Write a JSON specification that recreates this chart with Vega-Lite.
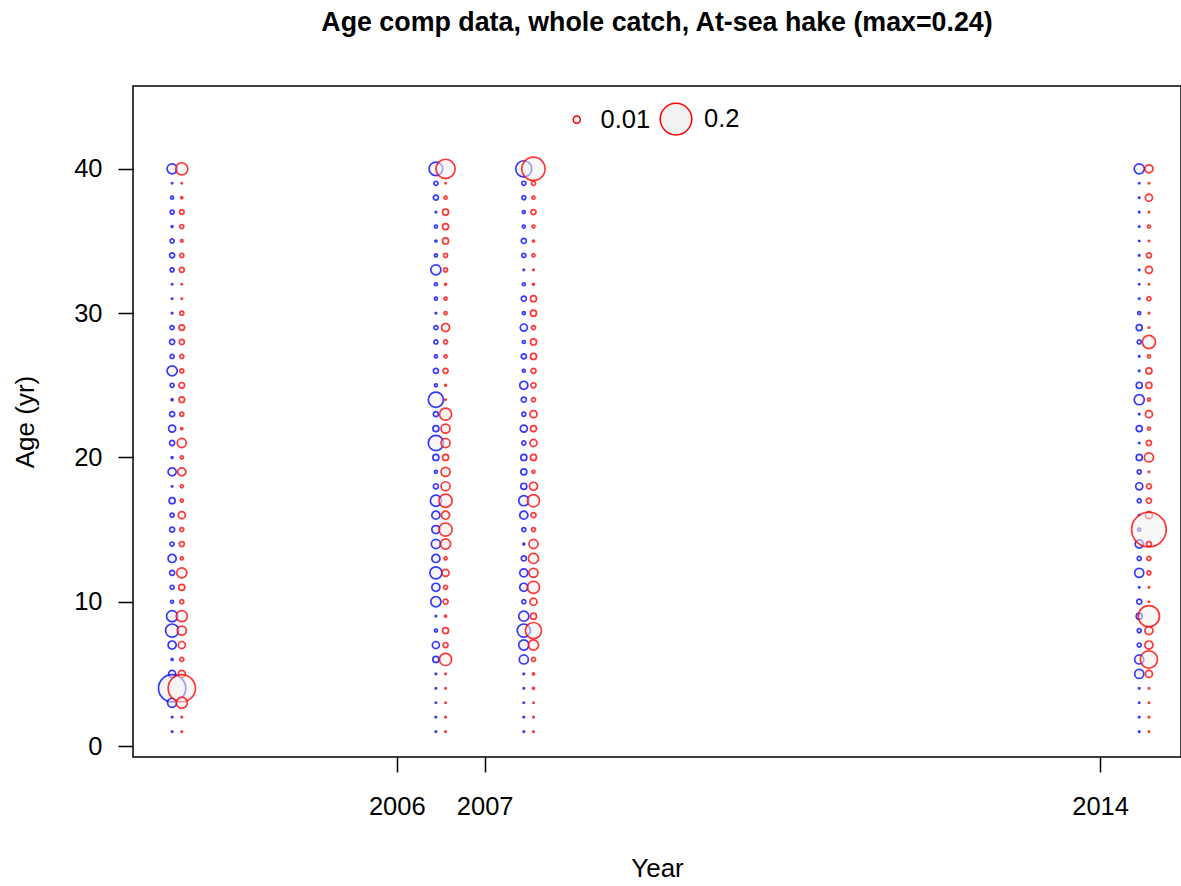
{
"$schema": "https://vega.github.io/schema/vega-lite/v6.json",
"width": 1048, "height": 671,
"autosize": {"type": "none"},
"padding": {"left": 133, "top": 86, "right": 0, "bottom": 129},
"background": "white",
"title": {"text": "Age comp data, whole catch, At-sea hake (max=0.24)", "anchor": "middle", "font": "Liberation Sans", "fontSize": 26.8, "fontWeight": "bold", "color": "black", "baseline": "alphabetic", "offset": 28},
"config": {
  "view": {"stroke": "black", "strokeWidth": 1.5},
  "axis": {"domain": false, "grid": false, "ticks": true, "tickColor": "black", "tickWidth": 1.5, "tickSize": 15,
           "labelFont": "Liberation Sans", "labelFontSize": 25.5, "labelColor": "black",
           "titleFont": "Liberation Sans", "titleFontSize": 26, "titleFontWeight": "normal", "titleColor": "black"}
},
"data": {"values": [
{"yr":2003.5,"sex":"M","age":40,"prop":0.0204},{"yr":2003.5,"sex":"M","age":39,"prop":0.0004},{"yr":2003.5,"sex":"M","age":38,"prop":0.0018},{"yr":2003.5,"sex":"M","age":37,"prop":0.0033},{"yr":2003.5,"sex":"M","age":36,"prop":0.0006},{"yr":2003.5,"sex":"M","age":35,"prop":0.0033},{"yr":2003.5,"sex":"M","age":34,"prop":0.0051},{"yr":2003.5,"sex":"M","age":33,"prop":0.0033},{"yr":2003.5,"sex":"M","age":32,"prop":0.0004},{"yr":2003.5,"sex":"M","age":31,"prop":0.0004},
{"yr":2003.5,"sex":"M","age":30,"prop":0.0004},{"yr":2003.5,"sex":"M","age":29,"prop":0.0033},{"yr":2003.5,"sex":"M","age":28,"prop":0.0051},{"yr":2003.5,"sex":"M","age":27,"prop":0.0033},{"yr":2003.5,"sex":"M","age":26,"prop":0.0204},{"yr":2003.5,"sex":"M","age":25,"prop":0.0033},{"yr":2003.5,"sex":"M","age":24,"prop":0.0008},{"yr":2003.5,"sex":"M","age":23,"prop":0.0051},{"yr":2003.5,"sex":"M","age":22,"prop":0.0100},{"yr":2003.5,"sex":"M","age":21,"prop":0.0051},
{"yr":2003.5,"sex":"M","age":20,"prop":0.0006},{"yr":2003.5,"sex":"M","age":19,"prop":0.0131},{"yr":2003.5,"sex":"M","age":18,"prop":0.0004},{"yr":2003.5,"sex":"M","age":17,"prop":0.0073},{"yr":2003.5,"sex":"M","age":16,"prop":0.0033},{"yr":2003.5,"sex":"M","age":15,"prop":0.0051},{"yr":2003.5,"sex":"M","age":14,"prop":0.0033},{"yr":2003.5,"sex":"M","age":13,"prop":0.0131},{"yr":2003.5,"sex":"M","age":12,"prop":0.0051},{"yr":2003.5,"sex":"M","age":11,"prop":0.0033},
{"yr":2003.5,"sex":"M","age":10,"prop":0.0018},{"yr":2003.5,"sex":"M","age":9,"prop":0.0247},{"yr":2003.5,"sex":"M","age":8,"prop":0.0345},{"yr":2003.5,"sex":"M","age":7,"prop":0.0131},{"yr":2003.5,"sex":"M","age":6,"prop":0.0008},{"yr":2003.5,"sex":"M","age":5,"prop":0.0100},{"yr":2003.5,"sex":"M","age":4,"prop":0.1488},{"yr":2003.5,"sex":"M","age":3,"prop":0.0165},{"yr":2003.5,"sex":"M","age":2,"prop":0.0004},{"yr":2003.5,"sex":"M","age":1,"prop":0.0004},
{"yr":2006.5,"sex":"M","age":40,"prop":0.0370},{"yr":2006.5,"sex":"M","age":39,"prop":0.0033},{"yr":2006.5,"sex":"M","age":38,"prop":0.0051},{"yr":2006.5,"sex":"M","age":37,"prop":0.0004},{"yr":2006.5,"sex":"M","age":36,"prop":0.0018},{"yr":2006.5,"sex":"M","age":35,"prop":0.0008},{"yr":2006.5,"sex":"M","age":34,"prop":0.0018},{"yr":2006.5,"sex":"M","age":33,"prop":0.0204},{"yr":2006.5,"sex":"M","age":32,"prop":0.0018},{"yr":2006.5,"sex":"M","age":31,"prop":0.0018},
{"yr":2006.5,"sex":"M","age":30,"prop":0.0004},{"yr":2006.5,"sex":"M","age":29,"prop":0.0033},{"yr":2006.5,"sex":"M","age":28,"prop":0.0033},{"yr":2006.5,"sex":"M","age":27,"prop":0.0018},{"yr":2006.5,"sex":"M","age":26,"prop":0.0051},{"yr":2006.5,"sex":"M","age":25,"prop":0.0018},{"yr":2006.5,"sex":"M","age":24,"prop":0.0459},{"yr":2006.5,"sex":"M","age":23,"prop":0.0051},{"yr":2006.5,"sex":"M","age":22,"prop":0.0073},{"yr":2006.5,"sex":"M","age":21,"prop":0.0459},
{"yr":2006.5,"sex":"M","age":20,"prop":0.0073},{"yr":2006.5,"sex":"M","age":19,"prop":0.0018},{"yr":2006.5,"sex":"M","age":18,"prop":0.0051},{"yr":2006.5,"sex":"M","age":17,"prop":0.0247},{"yr":2006.5,"sex":"M","age":16,"prop":0.0131},{"yr":2006.5,"sex":"M","age":15,"prop":0.0131},{"yr":2006.5,"sex":"M","age":14,"prop":0.0165},{"yr":2006.5,"sex":"M","age":13,"prop":0.0131},{"yr":2006.5,"sex":"M","age":12,"prop":0.0294},{"yr":2006.5,"sex":"M","age":11,"prop":0.0131},
{"yr":2006.5,"sex":"M","age":10,"prop":0.0204},{"yr":2006.5,"sex":"M","age":9,"prop":0.0004},{"yr":2006.5,"sex":"M","age":8,"prop":0.0018},{"yr":2006.5,"sex":"M","age":7,"prop":0.0100},{"yr":2006.5,"sex":"M","age":6,"prop":0.0073},{"yr":2006.5,"sex":"M","age":5,"prop":0.0004},{"yr":2006.5,"sex":"M","age":4,"prop":0.0004},{"yr":2006.5,"sex":"M","age":3,"prop":0.0004},{"yr":2006.5,"sex":"M","age":2,"prop":0.0004},{"yr":2006.5,"sex":"M","age":1,"prop":0.0004},
{"yr":2007.5,"sex":"M","age":40,"prop":0.0522},{"yr":2007.5,"sex":"M","age":39,"prop":0.0033},{"yr":2007.5,"sex":"M","age":38,"prop":0.0033},{"yr":2007.5,"sex":"M","age":37,"prop":0.0018},{"yr":2007.5,"sex":"M","age":36,"prop":0.0018},{"yr":2007.5,"sex":"M","age":35,"prop":0.0051},{"yr":2007.5,"sex":"M","age":34,"prop":0.0033},{"yr":2007.5,"sex":"M","age":33,"prop":0.0004},{"yr":2007.5,"sex":"M","age":32,"prop":0.0018},{"yr":2007.5,"sex":"M","age":31,"prop":0.0051},
{"yr":2007.5,"sex":"M","age":30,"prop":0.0018},{"yr":2007.5,"sex":"M","age":29,"prop":0.0100},{"yr":2007.5,"sex":"M","age":28,"prop":0.0018},{"yr":2007.5,"sex":"M","age":27,"prop":0.0051},{"yr":2007.5,"sex":"M","age":26,"prop":0.0018},{"yr":2007.5,"sex":"M","age":25,"prop":0.0131},{"yr":2007.5,"sex":"M","age":24,"prop":0.0051},{"yr":2007.5,"sex":"M","age":23,"prop":0.0033},{"yr":2007.5,"sex":"M","age":22,"prop":0.0100},{"yr":2007.5,"sex":"M","age":21,"prop":0.0033},
{"yr":2007.5,"sex":"M","age":20,"prop":0.0073},{"yr":2007.5,"sex":"M","age":19,"prop":0.0073},{"yr":2007.5,"sex":"M","age":18,"prop":0.0073},{"yr":2007.5,"sex":"M","age":17,"prop":0.0204},{"yr":2007.5,"sex":"M","age":16,"prop":0.0131},{"yr":2007.5,"sex":"M","age":15,"prop":0.0033},{"yr":2007.5,"sex":"M","age":14,"prop":0.0006},{"yr":2007.5,"sex":"M","age":13,"prop":0.0051},{"yr":2007.5,"sex":"M","age":12,"prop":0.0131},{"yr":2007.5,"sex":"M","age":11,"prop":0.0131},
{"yr":2007.5,"sex":"M","age":10,"prop":0.0033},{"yr":2007.5,"sex":"M","age":9,"prop":0.0204},{"yr":2007.5,"sex":"M","age":8,"prop":0.0345},{"yr":2007.5,"sex":"M","age":7,"prop":0.0204},{"yr":2007.5,"sex":"M","age":6,"prop":0.0165},{"yr":2007.5,"sex":"M","age":5,"prop":0.0004},{"yr":2007.5,"sex":"M","age":4,"prop":0.0004},{"yr":2007.5,"sex":"M","age":3,"prop":0.0004},{"yr":2007.5,"sex":"M","age":2,"prop":0.0004},{"yr":2007.5,"sex":"M","age":1,"prop":0.0004},
{"yr":2014.5,"sex":"M","age":40,"prop":0.0204},{"yr":2014.5,"sex":"M","age":39,"prop":0.0004},{"yr":2014.5,"sex":"M","age":38,"prop":0.0004},{"yr":2014.5,"sex":"M","age":37,"prop":0.0004},{"yr":2014.5,"sex":"M","age":36,"prop":0.0004},{"yr":2014.5,"sex":"M","age":35,"prop":0.0004},{"yr":2014.5,"sex":"M","age":34,"prop":0.0004},{"yr":2014.5,"sex":"M","age":33,"prop":0.0004},{"yr":2014.5,"sex":"M","age":32,"prop":0.0004},{"yr":2014.5,"sex":"M","age":31,"prop":0.0004},
{"yr":2014.5,"sex":"M","age":30,"prop":0.0018},{"yr":2014.5,"sex":"M","age":29,"prop":0.0073},{"yr":2014.5,"sex":"M","age":28,"prop":0.0033},{"yr":2014.5,"sex":"M","age":27,"prop":0.0004},{"yr":2014.5,"sex":"M","age":26,"prop":0.0004},{"yr":2014.5,"sex":"M","age":25,"prop":0.0073},{"yr":2014.5,"sex":"M","age":24,"prop":0.0204},{"yr":2014.5,"sex":"M","age":23,"prop":0.0004},{"yr":2014.5,"sex":"M","age":22,"prop":0.0073},{"yr":2014.5,"sex":"M","age":21,"prop":0.0004},
{"yr":2014.5,"sex":"M","age":20,"prop":0.0073},{"yr":2014.5,"sex":"M","age":19,"prop":0.0033},{"yr":2014.5,"sex":"M","age":18,"prop":0.0100},{"yr":2014.5,"sex":"M","age":17,"prop":0.0033},{"yr":2014.5,"sex":"M","age":16,"prop":0.0004},{"yr":2014.5,"sex":"M","age":15,"prop":0.0018},{"yr":2014.5,"sex":"M","age":14,"prop":0.0131},{"yr":2014.5,"sex":"M","age":13,"prop":0.0033},{"yr":2014.5,"sex":"M","age":12,"prop":0.0165},{"yr":2014.5,"sex":"M","age":11,"prop":0.0004},
{"yr":2014.5,"sex":"M","age":10,"prop":0.0051},{"yr":2014.5,"sex":"M","age":9,"prop":0.0073},{"yr":2014.5,"sex":"M","age":8,"prop":0.0033},{"yr":2014.5,"sex":"M","age":7,"prop":0.0033},{"yr":2014.5,"sex":"M","age":6,"prop":0.0165},{"yr":2014.5,"sex":"M","age":5,"prop":0.0165},{"yr":2014.5,"sex":"M","age":4,"prop":0.0004},{"yr":2014.5,"sex":"M","age":3,"prop":0.0004},{"yr":2014.5,"sex":"M","age":2,"prop":0.0004},{"yr":2014.5,"sex":"M","age":1,"prop":0.0004},
{"yr":2003.5,"sex":"F","age":40,"prop":0.0294},{"yr":2003.5,"sex":"F","age":39,"prop":0.0004},{"yr":2003.5,"sex":"F","age":38,"prop":0.0008},{"yr":2003.5,"sex":"F","age":37,"prop":0.0041},{"yr":2003.5,"sex":"F","age":36,"prop":0.0033},{"yr":2003.5,"sex":"F","age":35,"prop":0.0013},{"yr":2003.5,"sex":"F","age":34,"prop":0.0033},{"yr":2003.5,"sex":"F","age":33,"prop":0.0051},{"yr":2003.5,"sex":"F","age":32,"prop":0.0004},{"yr":2003.5,"sex":"F","age":31,"prop":0.0004},
{"yr":2003.5,"sex":"F","age":30,"prop":0.0033},{"yr":2003.5,"sex":"F","age":29,"prop":0.0062},{"yr":2003.5,"sex":"F","age":28,"prop":0.0051},{"yr":2003.5,"sex":"F","age":27,"prop":0.0033},{"yr":2003.5,"sex":"F","age":26,"prop":0.0033},{"yr":2003.5,"sex":"F","age":25,"prop":0.0062},{"yr":2003.5,"sex":"F","age":24,"prop":0.0062},{"yr":2003.5,"sex":"F","age":23,"prop":0.0033},{"yr":2003.5,"sex":"F","age":22,"prop":0.0008},{"yr":2003.5,"sex":"F","age":21,"prop":0.0165},
{"yr":2003.5,"sex":"F","age":20,"prop":0.0018},{"yr":2003.5,"sex":"F","age":19,"prop":0.0131},{"yr":2003.5,"sex":"F","age":18,"prop":0.0018},{"yr":2003.5,"sex":"F","age":17,"prop":0.0018},{"yr":2003.5,"sex":"F","age":16,"prop":0.0100},{"yr":2003.5,"sex":"F","age":15,"prop":0.0033},{"yr":2003.5,"sex":"F","age":14,"prop":0.0051},{"yr":2003.5,"sex":"F","age":13,"prop":0.0018},{"yr":2003.5,"sex":"F","age":12,"prop":0.0204},{"yr":2003.5,"sex":"F","age":11,"prop":0.0073},
{"yr":2003.5,"sex":"F","age":10,"prop":0.0033},{"yr":2003.5,"sex":"F","age":9,"prop":0.0247},{"yr":2003.5,"sex":"F","age":8,"prop":0.0165},{"yr":2003.5,"sex":"F","age":7,"prop":0.0100},{"yr":2003.5,"sex":"F","age":6,"prop":0.0033},{"yr":2003.5,"sex":"F","age":5,"prop":0.0100},{"yr":2003.5,"sex":"F","age":4,"prop":0.1488},{"yr":2003.5,"sex":"F","age":3,"prop":0.0247},{"yr":2003.5,"sex":"F","age":2,"prop":0.0004},{"yr":2003.5,"sex":"F","age":1,"prop":0.0004},
{"yr":2006.5,"sex":"F","age":40,"prop":0.0737},{"yr":2006.5,"sex":"F","age":39,"prop":0.0004},{"yr":2006.5,"sex":"F","age":38,"prop":0.0018},{"yr":2006.5,"sex":"F","age":37,"prop":0.0073},{"yr":2006.5,"sex":"F","age":36,"prop":0.0073},{"yr":2006.5,"sex":"F","age":35,"prop":0.0073},{"yr":2006.5,"sex":"F","age":34,"prop":0.0033},{"yr":2006.5,"sex":"F","age":33,"prop":0.0033},{"yr":2006.5,"sex":"F","age":32,"prop":0.0008},{"yr":2006.5,"sex":"F","age":31,"prop":0.0018},
{"yr":2006.5,"sex":"F","age":30,"prop":0.0018},{"yr":2006.5,"sex":"F","age":29,"prop":0.0131},{"yr":2006.5,"sex":"F","age":28,"prop":0.0033},{"yr":2006.5,"sex":"F","age":27,"prop":0.0018},{"yr":2006.5,"sex":"F","age":26,"prop":0.0051},{"yr":2006.5,"sex":"F","age":25,"prop":0.0006},{"yr":2006.5,"sex":"F","age":24,"prop":0.0004},{"yr":2006.5,"sex":"F","age":23,"prop":0.0294},{"yr":2006.5,"sex":"F","age":22,"prop":0.0165},{"yr":2006.5,"sex":"F","age":21,"prop":0.0165},
{"yr":2006.5,"sex":"F","age":20,"prop":0.0073},{"yr":2006.5,"sex":"F","age":19,"prop":0.0165},{"yr":2006.5,"sex":"F","age":18,"prop":0.0165},{"yr":2006.5,"sex":"F","age":17,"prop":0.0345},{"yr":2006.5,"sex":"F","age":16,"prop":0.0131},{"yr":2006.5,"sex":"F","age":15,"prop":0.0345},{"yr":2006.5,"sex":"F","age":14,"prop":0.0204},{"yr":2006.5,"sex":"F","age":13,"prop":0.0018},{"yr":2006.5,"sex":"F","age":12,"prop":0.0100},{"yr":2006.5,"sex":"F","age":11,"prop":0.0033},
{"yr":2006.5,"sex":"F","age":10,"prop":0.0051},{"yr":2006.5,"sex":"F","age":9,"prop":0.0008},{"yr":2006.5,"sex":"F","age":8,"prop":0.0073},{"yr":2006.5,"sex":"F","age":7,"prop":0.0051},{"yr":2006.5,"sex":"F","age":6,"prop":0.0294},{"yr":2006.5,"sex":"F","age":5,"prop":0.0004},{"yr":2006.5,"sex":"F","age":4,"prop":0.0004},{"yr":2006.5,"sex":"F","age":3,"prop":0.0004},{"yr":2006.5,"sex":"F","age":2,"prop":0.0004},{"yr":2006.5,"sex":"F","age":1,"prop":0.0004},
{"yr":2007.5,"sex":"F","age":40,"prop":0.1080},{"yr":2007.5,"sex":"F","age":39,"prop":0.0033},{"yr":2007.5,"sex":"F","age":38,"prop":0.0018},{"yr":2007.5,"sex":"F","age":37,"prop":0.0051},{"yr":2007.5,"sex":"F","age":36,"prop":0.0018},{"yr":2007.5,"sex":"F","age":35,"prop":0.0008},{"yr":2007.5,"sex":"F","age":34,"prop":0.0018},{"yr":2007.5,"sex":"F","age":33,"prop":0.0004},{"yr":2007.5,"sex":"F","age":32,"prop":0.0008},{"yr":2007.5,"sex":"F","age":31,"prop":0.0073},
{"yr":2007.5,"sex":"F","age":30,"prop":0.0073},{"yr":2007.5,"sex":"F","age":29,"prop":0.0033},{"yr":2007.5,"sex":"F","age":28,"prop":0.0073},{"yr":2007.5,"sex":"F","age":27,"prop":0.0073},{"yr":2007.5,"sex":"F","age":26,"prop":0.0051},{"yr":2007.5,"sex":"F","age":25,"prop":0.0051},{"yr":2007.5,"sex":"F","age":24,"prop":0.0033},{"yr":2007.5,"sex":"F","age":23,"prop":0.0100},{"yr":2007.5,"sex":"F","age":22,"prop":0.0073},{"yr":2007.5,"sex":"F","age":21,"prop":0.0100},
{"yr":2007.5,"sex":"F","age":20,"prop":0.0073},{"yr":2007.5,"sex":"F","age":19,"prop":0.0018},{"yr":2007.5,"sex":"F","age":18,"prop":0.0131},{"yr":2007.5,"sex":"F","age":17,"prop":0.0294},{"yr":2007.5,"sex":"F","age":16,"prop":0.0051},{"yr":2007.5,"sex":"F","age":15,"prop":0.0033},{"yr":2007.5,"sex":"F","age":14,"prop":0.0165},{"yr":2007.5,"sex":"F","age":13,"prop":0.0204},{"yr":2007.5,"sex":"F","age":12,"prop":0.0165},{"yr":2007.5,"sex":"F","age":11,"prop":0.0294},
{"yr":2007.5,"sex":"F","age":10,"prop":0.0100},{"yr":2007.5,"sex":"F","age":9,"prop":0.0073},{"yr":2007.5,"sex":"F","age":8,"prop":0.0522},{"yr":2007.5,"sex":"F","age":7,"prop":0.0204},{"yr":2007.5,"sex":"F","age":6,"prop":0.0033},{"yr":2007.5,"sex":"F","age":5,"prop":0.0008},{"yr":2007.5,"sex":"F","age":4,"prop":0.0008},{"yr":2007.5,"sex":"F","age":3,"prop":0.0004},{"yr":2007.5,"sex":"F","age":2,"prop":0.0004},{"yr":2007.5,"sex":"F","age":1,"prop":0.0004},
{"yr":2014.5,"sex":"F","age":40,"prop":0.0131},{"yr":2014.5,"sex":"F","age":39,"prop":0.0004},{"yr":2014.5,"sex":"F","age":38,"prop":0.0100},{"yr":2014.5,"sex":"F","age":37,"prop":0.0004},{"yr":2014.5,"sex":"F","age":36,"prop":0.0018},{"yr":2014.5,"sex":"F","age":35,"prop":0.0004},{"yr":2014.5,"sex":"F","age":34,"prop":0.0051},{"yr":2014.5,"sex":"F","age":33,"prop":0.0100},{"yr":2014.5,"sex":"F","age":32,"prop":0.0004},{"yr":2014.5,"sex":"F","age":31,"prop":0.0033},
{"yr":2014.5,"sex":"F","age":30,"prop":0.0004},{"yr":2014.5,"sex":"F","age":29,"prop":0.0004},{"yr":2014.5,"sex":"F","age":28,"prop":0.0345},{"yr":2014.5,"sex":"F","age":27,"prop":0.0018},{"yr":2014.5,"sex":"F","age":26,"prop":0.0073},{"yr":2014.5,"sex":"F","age":25,"prop":0.0073},{"yr":2014.5,"sex":"F","age":24,"prop":0.0018},{"yr":2014.5,"sex":"F","age":23,"prop":0.0100},{"yr":2014.5,"sex":"F","age":22,"prop":0.0018},{"yr":2014.5,"sex":"F","age":21,"prop":0.0051},
{"yr":2014.5,"sex":"F","age":20,"prop":0.0165},{"yr":2014.5,"sex":"F","age":19,"prop":0.0004},{"yr":2014.5,"sex":"F","age":18,"prop":0.0051},{"yr":2014.5,"sex":"F","age":17,"prop":0.0051},{"yr":2014.5,"sex":"F","age":16,"prop":0.0100},{"yr":2014.5,"sex":"F","age":15,"prop":0.2400},{"yr":2014.5,"sex":"F","age":14,"prop":0.0051},{"yr":2014.5,"sex":"F","age":13,"prop":0.0033},{"yr":2014.5,"sex":"F","age":12,"prop":0.0033},{"yr":2014.5,"sex":"F","age":11,"prop":0.0004},
{"yr":2014.5,"sex":"F","age":10,"prop":0.0004},{"yr":2014.5,"sex":"F","age":9,"prop":0.0900},{"yr":2014.5,"sex":"F","age":8,"prop":0.0131},{"yr":2014.5,"sex":"F","age":7,"prop":0.0131},{"yr":2014.5,"sex":"F","age":6,"prop":0.0590},{"yr":2014.5,"sex":"F","age":5,"prop":0.0100},{"yr":2014.5,"sex":"F","age":4,"prop":0.0004},{"yr":2014.5,"sex":"F","age":3,"prop":0.0004},{"yr":2014.5,"sex":"F","age":2,"prop":0.0004},{"yr":2014.5,"sex":"F","age":1,"prop":0.0004}
]},
"transform": [{"calculate": "datum.yr + (datum.sex == 'M' ? -0.055 : 0.055)", "as": "xpos"}],
"mark": {"type": "point", "shape": "circle", "filled": false, "fill": "#f2f2f2", "fillOpacity": 0.55, "strokeWidth": 1.7, "strokeOpacity": 0.78},
"encoding": {
  "x": {"field": "xpos", "type": "quantitative", "title": "Year",
        "scale": {"domain": [2003, 2014.92], "nice": false, "zero": false},
        "axis": {"values": [2006, 2007, 2014], "format": "d", "labelPadding": 22, "titlePadding": 36, "labelFlush": false}},
  "y": {"field": "age", "type": "quantitative", "title": "Age (yr)",
        "scale": {"domain": [-0.76, 45.74], "nice": false, "zero": false},
        "axis": {"values": [0, 10, 20, 30, 40], "labelAngle": 0, "labelPadding": 16, "titlePadding": 35, "labelFlush": false}},
  "size": {"field": "prop", "type": "quantitative",
           "scale": {"type": "linear", "domain": [0, 0.24], "range": [0, 1200]},
           "legend": {"values": [0.01, 0.2], "format": "~g", "title": null, "orient": "none", "legendX": 431, "legendY": 16, "direction": "horizontal",
                      "symbolType": "circle",
                      "labelFont": "Liberation Sans", "labelFontSize": 25.5, "labelColor": "black", "labelOffset": 11, "columnPadding": 6}},
  "stroke": {"condition": {"test": "datum.sex == 'M'", "value": "#0000ff"}, "value": "#ff0000"}
}
}
